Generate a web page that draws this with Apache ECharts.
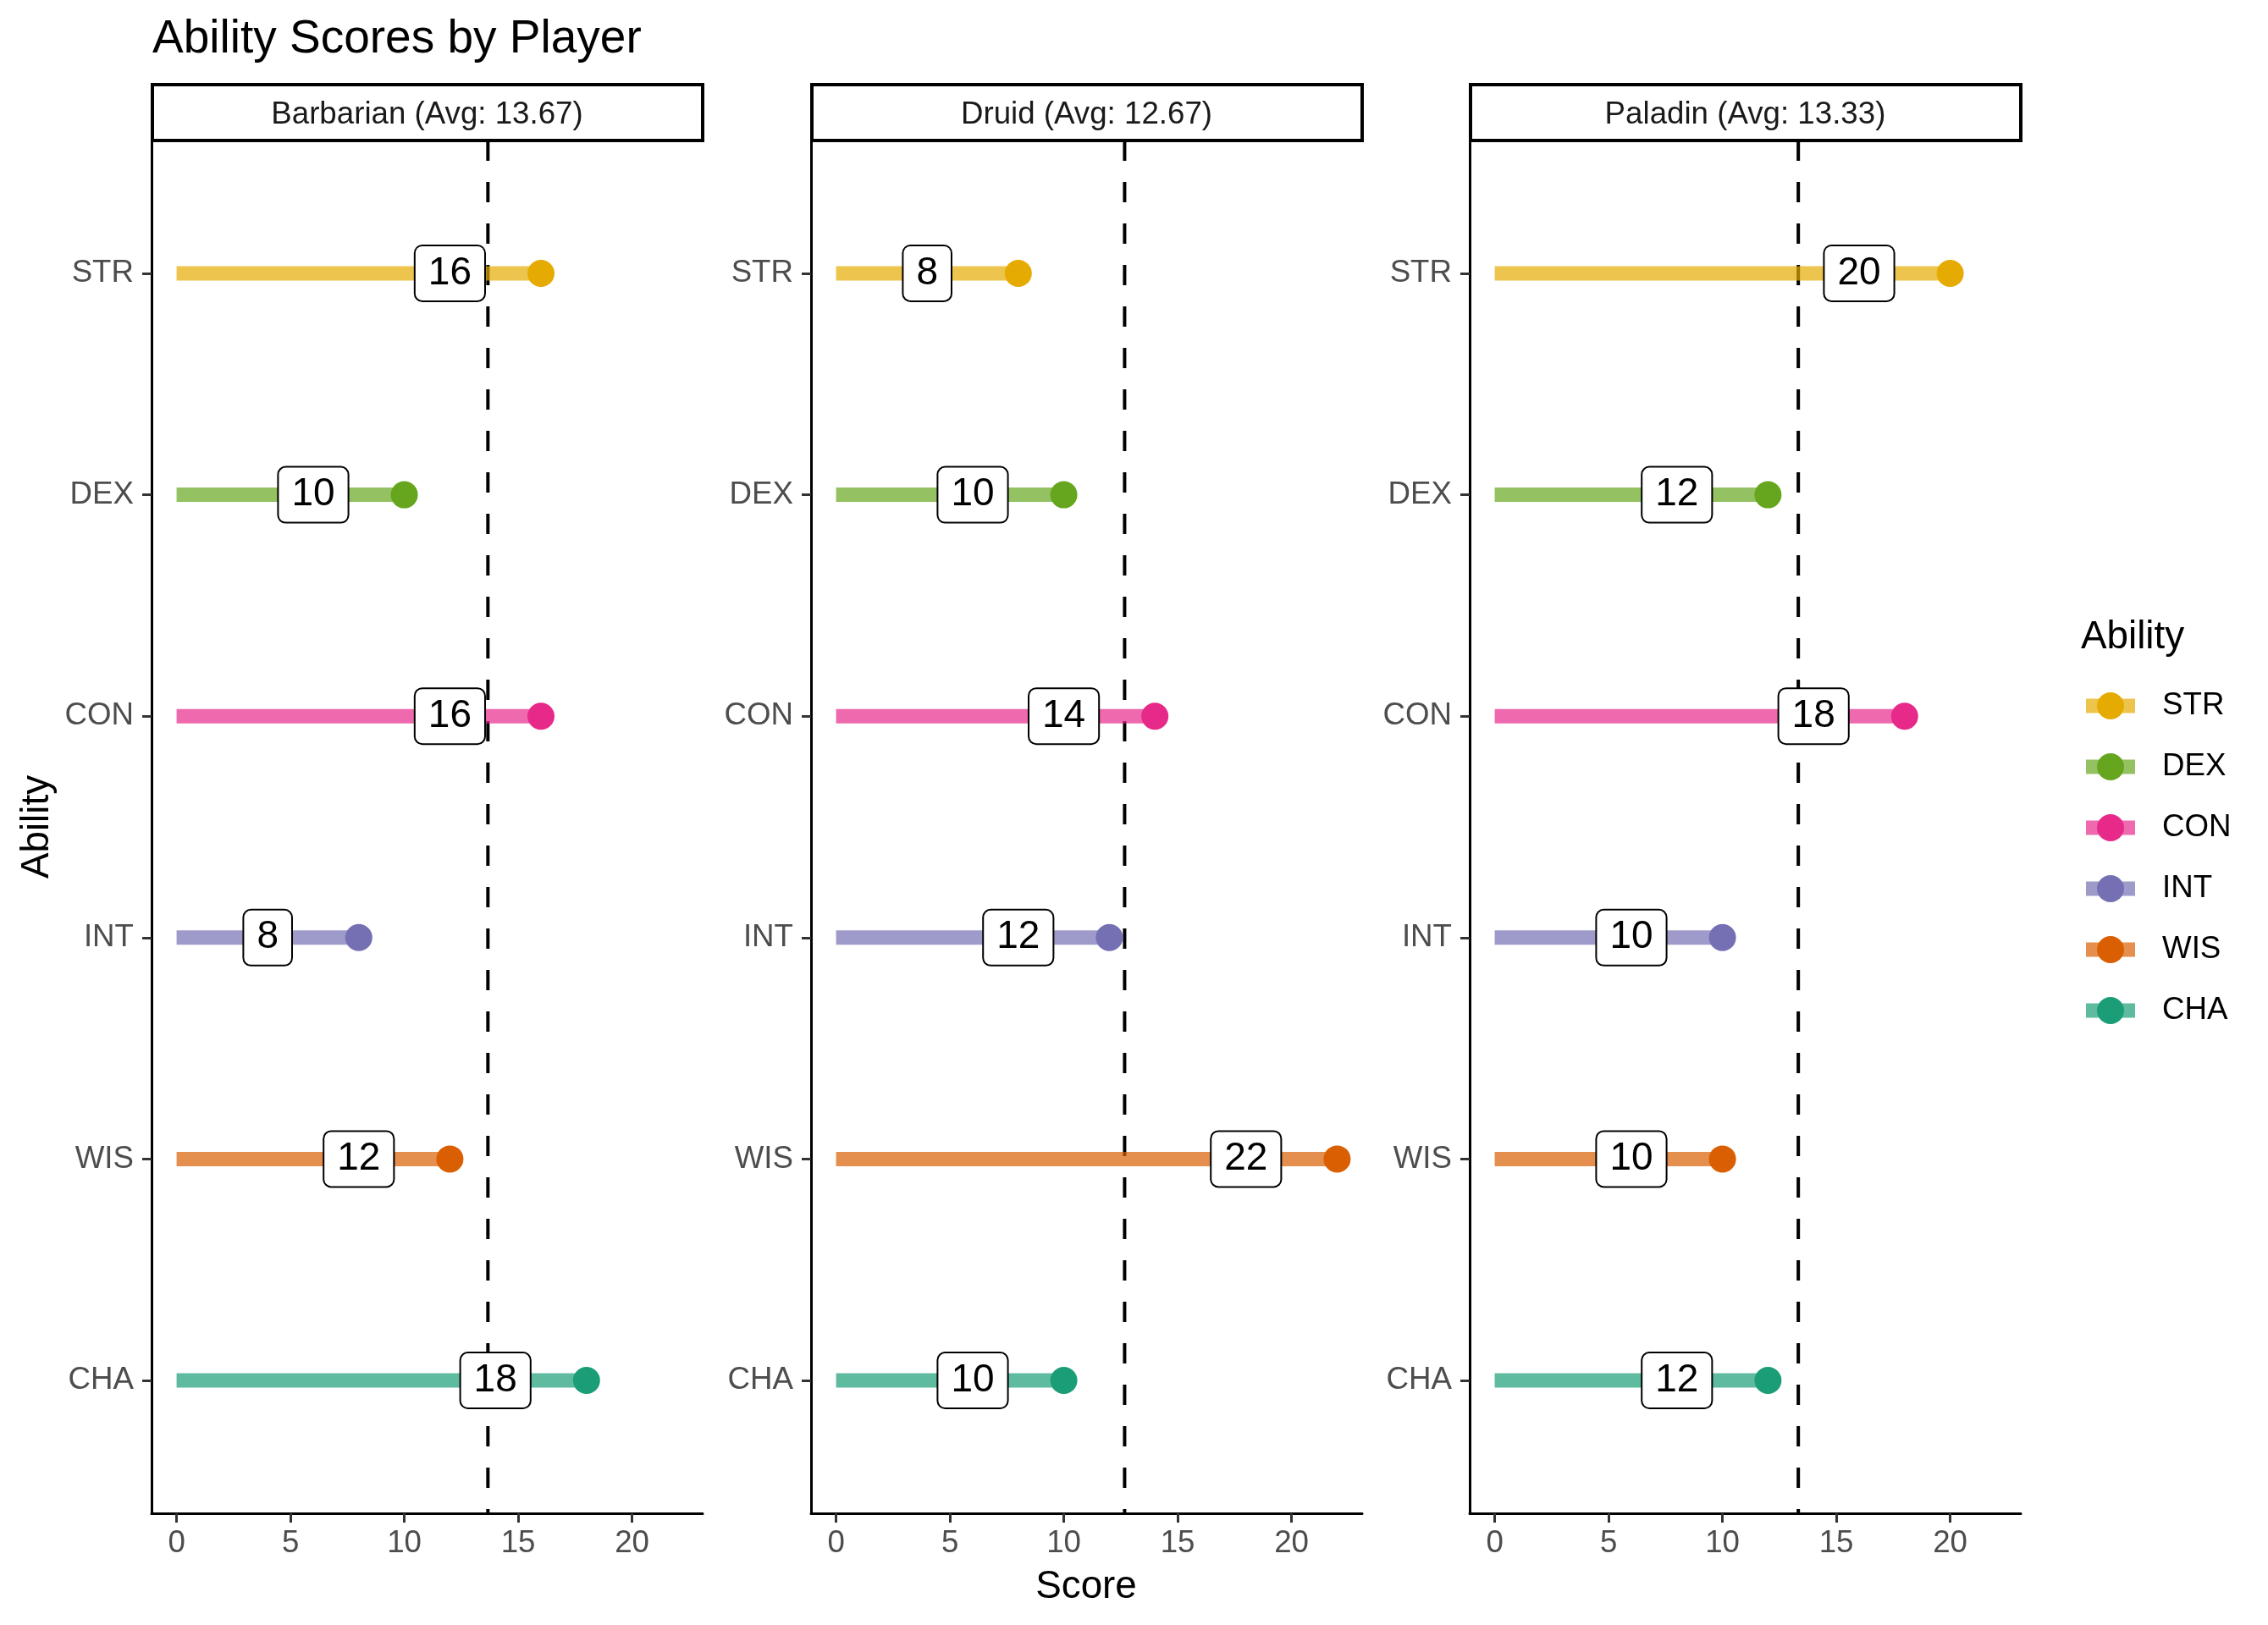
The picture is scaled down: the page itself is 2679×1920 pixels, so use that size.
<!DOCTYPE html>
<html>
<head>
<meta charset="utf-8">
<script src="https://cdn.jsdelivr.net/npm/echarts@6/dist/echarts.min.js"></script>
<style>
  html, body { margin: 0; padding: 0; background: #fff; }
  #chart { width: 2679px; height: 1920px; }
</style>
</head>
<body>
<div id="chart"></div>
<script>
// ---------------- data ----------------
const players = ['Barbarian', 'Druid', 'Paladin'];
const averages = [13.67, 12.67, 13.33];
const abilities = ['STR', 'DEX', 'CON', 'INT', 'WIS', 'CHA'];
const barbarianScores = [16, 10, 16, 8, 12, 18];
const druidScores = [8, 10, 14, 12, 22, 10];
const paladinScores = [20, 12, 18, 10, 10, 12];
const xTicks = [0, 5, 10, 15, 20];
const labelNudge = -4;
const abilityColors = ['#E6AB02', '#66A61E', '#E7298A', '#7570B3', '#D95F02', '#1B9E77'];

// ---------------- layout / style ----------------
const scoresByPlayer = [barbarianScores, druidScores, paladinScores];
const FONT = '"Liberation Sans", Arial, Helvetica, sans-serif';
const gridLefts = [179, 958, 1736];
const gridTop = 166, gridWidth = 651, gridHeight = 1622;
const xMin = -1.1, xMax = 23.1, yMin = 0.4, yMax = 6.6;
const catValues = abilities.map((_, i) => i + 1);

function rgba(hex, a) {
  const n = parseInt(hex.slice(1), 16);
  return 'rgba(' + ((n >> 16) & 255) + ',' + ((n >> 8) & 255) + ',' + (n & 255) + ',' + a + ')';
}

const grids = [], xAxes = [], yAxes = [], series = [], graphics = [];

players.forEach((player, p) => {
  grids.push({ left: gridLefts[p], top: gridTop, width: gridWidth, height: gridHeight, containLabel: false });
  xAxes.push({
    type: 'value', gridIndex: p, min: xMin, max: xMax,
    splitLine: { show: false },
    axisLine: { show: true, onZero: false, lineStyle: { color: '#000', width: 3 } },
    axisTick: { show: true, customValues: xTicks, length: 11, lineStyle: { color: '#333', width: 3 } },
    axisLabel: { show: true, customValues: xTicks, color: '#4D4D4D', fontSize: 36.7, fontFamily: FONT, margin: 17 }
  });
  yAxes.push({
    type: 'value', gridIndex: p, min: yMin, max: yMax, inverse: true,
    splitLine: { show: false },
    axisLine: { show: true, onZero: false, lineStyle: { color: '#000', width: 3 } },
    axisTick: { show: true, customValues: catValues, length: 11, lineStyle: { color: '#333', width: 3 } },
    axisLabel: { show: true, customValues: catValues, color: '#4D4D4D', fontSize: 36.7, fontFamily: FONT, margin: 21,
      formatter: v => abilities[Math.round(v) - 1] }
  });

  // average dashed line
  series.push({
    type: 'custom', xAxisIndex: p, yAxisIndex: p, z: 1, silent: true, clip: false,
    data: [[averages[p]]],
    renderItem: (params, api) => {
      const a = api.coord([api.value(0), yMin]);
      const b = api.coord([api.value(0), yMax]);
      return { type: 'line', shape: { x1: a[0], y1: a[1], x2: b[0], y2: b[1] },
        style: { stroke: '#000', lineWidth: 4, lineDash: [24, 25] } };
    }
  });

  const scores = scoresByPlayer[p];
  abilities.forEach((ab, i) => {
    // segment
    series.push({
      type: 'custom', name: ab, xAxisIndex: p, yAxisIndex: p, z: 2, clip: false,
      itemStyle: { color: rgba(abilityColors[i], 0.7) },
      data: [[scores[i], i + 1]],
      renderItem: (params, api) => {
        const a = api.coord([0, api.value(1)]);
        const b = api.coord([api.value(0), api.value(1)]);
        return { type: 'line', shape: { x1: a[0], y1: a[1], x2: b[0], y2: b[1] },
          style: { stroke: api.visual('color'), lineWidth: 17, lineCap: 'butt' } };
      }
    });
    // dot
    series.push({
      type: 'scatter', name: ab + '_pt', xAxisIndex: p, yAxisIndex: p, z: 3,
      symbol: 'circle', symbolSize: 32,
      itemStyle: { color: abilityColors[i], opacity: 1 },
      data: [[scores[i], i + 1]]
    });
  });

  // value labels
  series.push({
    type: 'custom', xAxisIndex: p, yAxisIndex: p, z: 4, clip: false,
    data: scores.map((v, i) => [v + labelNudge, i + 1, v]),
    renderItem: (params, api) => {
      const c = api.coord([api.value(0), api.value(1)]);
      return { type: 'text', x: c[0], y: c[1],
        style: { text: String(api.value(2)), fontSize: 46, fontFamily: FONT, fill: '#000',
          align: 'center', verticalAlign: 'middle', lineHeight: 46,
          backgroundColor: '#fff', borderColor: '#000', borderWidth: 2, borderRadius: 8,
          padding: [9, 15] } };
    }
  });

  // facet strip
  graphics.push({
    type: 'rect', shape: { x: gridLefts[p] + 1, y: 100, width: gridWidth - 1, height: 66 },
    style: { fill: '#fff', stroke: '#000', lineWidth: 4 }, z: 10
  });
  graphics.push({
    type: 'text', x: gridLefts[p] + gridWidth / 2, y: 136, z: 11,
    style: { text: player + ' (Avg: ' + averages[p].toFixed(2) + ')', fontSize: 36.7, fontFamily: FONT,
      fill: '#1A1A1A', align: 'center', verticalAlign: 'middle' }
  });
});

// titles
graphics.push({ type: 'text', x: 180, y: 47, z: 11,
  style: { text: 'Ability Scores by Player', fontSize: 55, fontFamily: FONT, fill: '#000', align: 'left', verticalAlign: 'middle' } });
graphics.push({ type: 'text', x: 1283, y: 1875, z: 11,
  style: { text: 'Score', fontSize: 45.8, fontFamily: FONT, fill: '#000', align: 'center', verticalAlign: 'middle' } });
graphics.push({ type: 'text', x: 44, y: 977, rotation: Math.PI / 2, z: 11,
  style: { text: 'Ability', fontSize: 45.8, fontFamily: FONT, fill: '#000', align: 'center', verticalAlign: 'middle' } });
graphics.push({ type: 'text', x: 2458, y: 753, z: 11,
  style: { text: 'Ability', fontSize: 45.8, fontFamily: FONT, fill: '#000', align: 'left', verticalAlign: 'middle' } });

const option = {
  animation: false,
  backgroundColor: '#fff',
  grid: grids,
  xAxis: xAxes,
  yAxis: yAxes,
  series: series,
  graphic: graphics,
  legend: [
    {
      orient: 'vertical', left: 2464, top: 814, padding: 0, z: 4,
      itemWidth: 58, itemHeight: 17, itemGap: 32, icon: 'rect',
      selectedMode: false,
      data: abilities,
      textStyle: { fontSize: 36.7, fontFamily: FONT, color: '#000', lineHeight: 40, padding: [0, 0, 0, 27] }
    },
    {
      orient: 'vertical', left: 2477, top: 814, padding: 0, z: 5,
      itemWidth: 32, itemHeight: 32, itemGap: 32, icon: 'circle',
      selectedMode: false,
      data: abilities.map(a => a + '_pt'),
      formatter: () => ' ',
      textStyle: { fontSize: 36.7, fontFamily: FONT, color: '#000', lineHeight: 40 }
    }
  ]
};

const chart = echarts.init(document.getElementById('chart'), null, { renderer: 'canvas' });
chart.setOption(option);
</script>
</body>
</html>
